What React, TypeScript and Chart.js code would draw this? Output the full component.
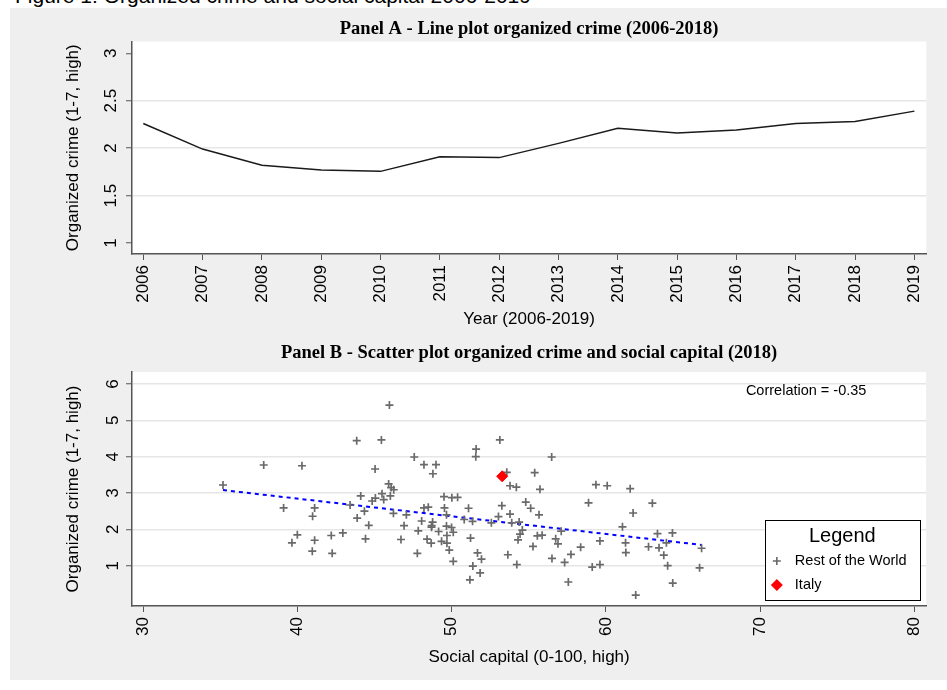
import React, { useEffect, useRef } from 'react';
import { Chart, registerables } from 'chart.js';

Chart.register(...registerables);

// ---------------- Data ----------------
const figureTitle = 'Figure 1: Organized crime and social capital 2006-2019';

const panelATitle = 'Panel A - Line plot organized crime (2006-2018)';
const years = [2006, 2007, 2008, 2009, 2010, 2011, 2012, 2013, 2014, 2015, 2016, 2017, 2018, 2019];
const crimeByYear = [2.26, 1.99, 1.82, 1.77, 1.755, 1.91, 1.9, 2.05, 2.21, 2.16, 2.19, 2.26, 2.28, 2.39];
const yTicksA = [1, 1.5, 2, 2.5, 3];

const panelBTitle = 'Panel B - Scatter plot organized crime and social capital (2018)';
const socialCapital = [
  35.17, 37.81, 40.29, 39.1, 41.11, 40.98, 39.99, 39.64, 41.11, 40.96,
  42.19, 42.25, 42.94, 44.41, 43.87, 44.34, 44.62, 44.1, 43.41, 43.84,
  45.44, 45.96, 45.03, 44.84, 45.05, 45.48, 45.59, 45.91, 46.07, 46.24,
  46.02, 46.22, 47.06, 46.91, 46.71, 47.77, 47.57, 48.2, 48.98, 48.78,
  48.2, 48.48, 48.05, 47.83, 48.76, 48.69, 49.15, 48.4, 48.67, 49.34,
  49.69, 49.84, 50.1, 49.5, 50.01, 50.38, 49.53, 49.66, 49.66, 49.99,
  50.1, 49.69, 51.09, 50.81, 51.35, 51.22, 51.67, 51.93, 51.37, 51.84,
  51.18, 51.58, 51.56, 53.12, 53.57, 53.78, 54.19, 53.25, 53.03, 52.57,
  53.78, 53.89, 54.37, 54.58, 54.43, 54.3, 53.64, 54.22, 54.8, 55.12,
  55.38, 56.48, 55.72, 55.66, 55.55, 55.86, 55.27, 56.74, 56.89, 57.1,
  56.5, 57.32, 57.73, 58.36, 57.56, 58.87, 59.35, 60.08, 59.61, 59.11,
  59.61, 61.57, 61.76, 61.07, 61.27, 61.29, 61.93, 63.01, 63.34, 64.31,
  62.76, 63.44, 63.92, 63.75, 64.0, 64.33, 66.2, 66.07, 48.7
];
const organizedCrime = [
  3.22, 3.77, 3.75, 2.59, 2.59, 2.36, 1.85, 1.63, 1.7, 1.4,
  1.83, 1.34, 1.9, 1.74, 2.31, 2.5, 2.11, 2.92, 2.67, 4.44,
  4.46, 5.42, 3.66, 2.78, 2.86, 2.98, 2.82, 3.25, 3.15, 3.09,
  2.92, 2.44, 2.4, 2.1, 1.72, 1.34, 3.99, 3.78, 3.78, 3.53,
  2.59, 2.61, 2.23, 1.96, 2.2, 2.06, 1.94, 1.73, 1.62, 1.67,
  1.62, 1.43, 1.12, 2.9, 2.87, 2.88, 2.59, 2.4, 2.09, 2.05,
  1.92, 1.83, 2.58, 2.27, 2.22, 1.76, 1.35, 1.18, 0.99, 0.8,
  0.61, 4.21, 4.0, 4.46, 3.57, 3.2, 3.16, 2.65, 2.35, 2.18,
  2.42, 2.18, 2.2, 1.98, 1.87, 1.71, 1.3, 1.03, 2.75, 2.58,
  3.56, 3.99, 3.1, 2.4, 1.82, 1.84, 1.53, 1.74, 1.6, 1.95,
  1.2, 1.09, 1.31, 1.51, 0.55, 2.73, 3.23, 3.2, 1.68, 0.96,
  1.03, 3.12, 2.45, 2.07, 1.63, 1.36, 0.19, 2.72, 1.88, 1.9,
  1.52, 1.49, 1.63, 1.29, 1.0, 0.52, 1.48, 0.94, 2.1
];
const italySocial = [53.27];
const italyCrime = [3.46];
const fitSocial = [35.17, 66.22];
const fitCrime = [3.08, 1.57];
const xTicksB = [30, 40, 50, 60, 70, 80];
const yTicksB = [1, 2, 3, 4, 5, 6];
const correlationText = 'Correlation = -0.35';
const legendTitle = 'Legend';
const legendLabels = ['Rest of the World', 'Italy'];

// ---------------- Styles ----------------
const SANS = "'Liberation Sans', Arial, Helvetica, sans-serif";
const SERIF = "'Liberation Serif', 'Times New Roman', serif";
const AXIS = '#555555';
const GRID = '#e6e6e6';
const CROSS = '#6a6a6a';

Chart.defaults.font.family = SANS;
Chart.defaults.color = '#000';

const whiteArea = {
  id: 'whiteArea',
  beforeDraw(chart: any) {
    const { ctx, chartArea: a } = chart;
    ctx.save();
    ctx.fillStyle = '#ffffff';
    ctx.fillRect(a.left, a.top, a.right - a.left, a.bottom - a.top);
    ctx.restore();
  },
};

const panelTitle = {
  id: 'panelTitle',
  afterDraw(chart: any, _args: any, opts: any) {
    if (!opts || !opts.text) return;
    const { ctx, chartArea: a } = chart;
    ctx.save();
    ctx.font = `bold 18.5px ${SERIF}`;
    ctx.fillStyle = '#000';
    ctx.textAlign = 'center';
    ctx.textBaseline = 'alphabetic';
    ctx.fillText(opts.text, (a.left + a.right) / 2, a.top - opts.gap);
    ctx.restore();
  },
};

const scatterExtras = {
  id: 'scatterExtras',
  afterDraw(chart: any, _args: any, opts: any) {
    if (!opts || !opts.show) return;
    const { ctx, chartArea: a } = chart;
    ctx.save();
    // correlation note
    ctx.font = `14.5px ${SANS}`;
    ctx.fillStyle = '#000';
    ctx.textAlign = 'center';
    ctx.textBaseline = 'middle';
    ctx.fillText(correlationText, a.right - 120, a.top + 19);

    // legend box
    const w = 155;
    const h = 80;
    const bx = a.right - 6.3 - w;
    const by = a.bottom - 6 - h;
    ctx.fillStyle = '#ffffff';
    ctx.fillRect(bx, by, w, h);
    ctx.strokeStyle = '#000';
    ctx.lineWidth = 1;
    ctx.strokeRect(Math.round(bx) + 0.5, Math.round(by) + 0.5, w, h);

    ctx.fillStyle = '#000';
    ctx.font = `20px ${SANS}`;
    ctx.textAlign = 'center';
    ctx.fillText(legendTitle, bx + w / 2, by + 16);

    // cross marker
    const cx = bx + 12;
    const cy1 = by + 41;
    ctx.strokeStyle = CROSS;
    ctx.lineWidth = 1.6;
    ctx.beginPath();
    ctx.moveTo(cx - 4, cy1);
    ctx.lineTo(cx + 4, cy1);
    ctx.moveTo(cx, cy1 - 4);
    ctx.lineTo(cx, cy1 + 4);
    ctx.stroke();

    // diamond marker
    const cy2 = by + 65;
    ctx.fillStyle = '#ff0000';
    ctx.beginPath();
    ctx.moveTo(cx, cy2 - 6);
    ctx.lineTo(cx + 6, cy2);
    ctx.lineTo(cx, cy2 + 6);
    ctx.lineTo(cx - 6, cy2);
    ctx.closePath();
    ctx.fill();

    ctx.fillStyle = '#000';
    ctx.font = `14.5px ${SANS}`;
    ctx.textAlign = 'left';
    ctx.fillText(legendLabels[0], bx + 30, cy1);
    ctx.fillText(legendLabels[1], bx + 30, cy2);
    ctx.restore();
  },
};

function axisY(min: number, max: number, ticks: number[], tickPad: number, gridColor: (v: number) => string) {
  return {
    type: 'linear',
    min,
    max,
    afterBuildTicks: (s: any) => {
      s.ticks = ticks.map((v) => ({ value: v }));
    },
    afterFit: (s: any) => {
      s.width = 122;
    },
    grid: {
      color: (c: any) => (c.tick ? gridColor(c.tick.value) : GRID),
      lineWidth: 1.5,
      tickLength: 6,
      tickColor: AXIS,
      tickWidth: 1,
    },
    border: { color: AXIS, width: 1.5 },
    ticks: {
      minRotation: 90,
      maxRotation: 90,
      crossAlign: 'center',
      padding: tickPad,
      color: '#000',
      font: { size: 17 },
      callback: (v: any) => String(v),
    },
    title: {
      display: true,
      text: 'Organized crime (1-7, high)',
      color: '#000',
      font: { size: 17 },
      padding: { top: 53, bottom: 0 },
    },
  };
}

function axisX(min: number, max: number, ticks: number[], height: number, title: string, titlePad: number) {
  return {
    type: 'linear',
    min,
    max,
    afterBuildTicks: (s: any) => {
      s.ticks = ticks.map((v) => ({ value: v }));
    },
    afterFit: (s: any) => {
      s.height = height;
    },
    grid: {
      drawOnChartArea: false,
      tickLength: 6,
      tickColor: AXIS,
      tickWidth: 1,
    },
    border: { color: AXIS, width: 1.5 },
    ticks: {
      minRotation: 90,
      maxRotation: 90,
      autoSkip: false,
      padding: 5,
      color: '#000',
      font: { size: 17 },
      callback: (v: any) => String(v),
    },
    title: {
      display: true,
      text: title,
      color: '#000',
      font: { size: 17 },
      padding: { top: 0, bottom: titlePad },
    },
  };
}

function PanelA() {
  const ref = useRef<HTMLCanvasElement>(null);
  useEffect(() => {
    if (!ref.current) return;
    const chart = new Chart(ref.current, {
      type: 'line',
      data: {
        datasets: [
          {
            data: years.map((y, i) => ({ x: y, y: crimeByYear[i] })),
            borderColor: '#1a1a1a',
            borderWidth: 1.5,
            pointRadius: 0,
            tension: 0,
            fill: false,
          },
        ],
      },
      options: {
        responsive: false,
        animation: false,
        events: [],
        layout: { padding: { left: 0, right: 12, top: 33.5, bottom: 0 } },
        plugins: {
          legend: { display: false },
          tooltip: { enabled: false },
          panelTitle: { text: panelATitle, gap: 7.5 },
        } as any,
        scales: {
          x: axisX(2005.81, 2019.2, years, 86, 'Year (2006-2019)', 10) as any,
          y: axisY(0.884, 3.124, yTicksA, 3, (v) => (v === 1 || v === 3 ? 'rgba(0,0,0,0)' : GRID)) as any,
        },
      },
      plugins: [whiteArea, panelTitle],
    });
    return () => chart.destroy();
  }, []);
  return (
    <canvas
      ref={ref}
      width={930}
      height={332}
      style={{ position: 'absolute', left: 10, top: 8, width: 930, height: 332 }}
    />
  );
}

function PanelB() {
  const ref = useRef<HTMLCanvasElement>(null);
  useEffect(() => {
    if (!ref.current) return;
    const chart = new Chart(ref.current, {
      type: 'scatter',
      data: {
        datasets: [
          {
            data: fitSocial.map((x, i) => ({ x, y: fitCrime[i] })),
            showLine: true,
            borderColor: '#0000ff',
            borderWidth: 2,
            borderDash: [4, 4],
            pointRadius: 0,
            order: 3,
          } as any,
          {
            data: socialCapital.map((x, i) => ({ x, y: organizedCrime[i] })),
            pointStyle: 'cross',
            pointRadius: 4,
            borderColor: CROSS,
            backgroundColor: CROSS,
            pointBorderWidth: 1.7,
            order: 2,
          },
          {
            data: italySocial.map((x, i) => ({ x, y: italyCrime[i] })),
            pointStyle: 'rectRot',
            pointRadius: 5.5,
            borderColor: '#ff0000',
            backgroundColor: '#ff0000',
            pointBorderWidth: 1,
            order: 1,
          },
        ],
      },
      options: {
        responsive: false,
        animation: false,
        events: [],
        layout: { padding: { left: 0, right: 12, top: 32, bottom: 0 } },
        plugins: {
          legend: { display: false },
          tooltip: { enabled: false },
          panelTitle: { text: panelBTitle, gap: 14 },
          scatterExtras: { show: true },
        } as any,
        scales: {
          x: axisX(29.27, 80.76, xTicksB, 74, 'Social capital (0-100, high)', 12) as any,
          y: axisY(-0.11, 6.33, yTicksB, 8, () => GRID) as any,
        },
      },
      plugins: [whiteArea, panelTitle, scatterExtras],
    });
    return () => chart.destroy();
  }, []);
  return (
    <canvas
      ref={ref}
      width={930}
      height={340}
      style={{ position: 'absolute', left: 10, top: 340, width: 930, height: 340 }}
    />
  );
}

export default function App() {
  return (
    <div
      style={{
        position: 'absolute',
        left: 0,
        top: 0,
        width: 947,
        height: 690,
        background: '#ffffff',
        overflow: 'hidden',
      }}
    >
      <div
        style={{
          position: 'absolute',
          left: 10,
          top: 8,
          width: 937,
          height: 672,
          background: '#efefef',
        }}
      />
      <div
        style={{
          position: 'absolute',
          left: 15,
          top: -15,
          font: `21px ${SANS}`,
          lineHeight: '21px',
          color: '#000',
          whiteSpace: 'nowrap',
        }}
      >
        {figureTitle}
      </div>
      <PanelA />
      <PanelB />
    </div>
  );
}
